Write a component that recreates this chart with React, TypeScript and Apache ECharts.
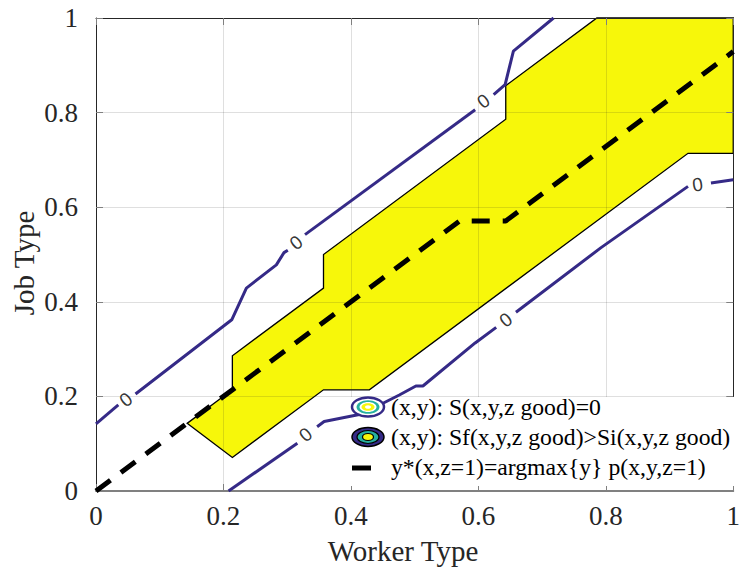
import React, { useEffect, useRef } from "react";
import * as echarts from "echarts";

// ---- data ----
const xTickLabels = ["0", "0.2", "0.4", "0.6", "0.8", "1"];
const yTickLabels = ["0", "0.2", "0.4", "0.6", "0.8", "1"];

// region where Sf > Si (yellow)
const regionX = [0.143, 0.214, 0.214, 0.357, 0.357, 0.643, 0.643, 0.786, 1.0, 1.0, 0.929, 0.429, 0.357, 0.214];
const regionY = [0.143, 0.214, 0.286, 0.429, 0.5, 0.786, 0.857, 1.0, 1.0, 0.714, 0.714, 0.214, 0.214, 0.071];

// S = 0 contour, upper branch (null = gap for a label)
const upperX = [0, 0.035, null, 0.062, 0.213, 0.236, 0.283, 0.295, 0.301, null, 0.328, 0.595, null, 0.624, 0.642, 0.655, 0.718];
const upperY = [0.142, 0.182, null, 0.205, 0.362, 0.429, 0.478, 0.504, 0.509, null, 0.542, 0.806, null, 0.838, 0.859, 0.93, 1.0];

// S = 0 contour, lower branch
const lowerX = [0.208, 0.316, null, 0.347, 0.358, 0.425, 0.448, 0.476, 0.502, 0.513, 0.595, 0.628, null, 0.659, 0.792, 0.929, null, 0.965, 1.0];
const lowerY = [0, 0.101, null, 0.136, 0.147, 0.165, 0.184, 0.203, 0.222, 0.222, 0.313, 0.346, null, 0.378, 0.514, 0.644, null, 0.651, 0.658];

// contour labels
const contourLabelX = [0.047, 0.314, 0.608, 0.329, 0.643, 0.944];
const contourLabelY = [0.193, 0.525, 0.824, 0.119, 0.362, 0.648];
const contourLabelText = ["0", "0", "0", "0", "0", "0"];
const contourLabelAngle = [38, 38, 36, 40, 37, 8];

// y*(x, z=1)
const yStarX = [0, 0.571, 0.643, 1];
const yStarY = [0, 0.571, 0.571, 0.929];

const legendTexts = [
  "(x,y): S(x,y,z good)=0",
  "(x,y): Sf(x,y,z good)>Si(x,y,z good)",
  "y*(x,z=1)=argmax{y} p(x,y,z=1)",
];

const NAVY = "#352a87";
const TEAL = "#26b0a0";
const YELLOW = "#f7f70a";
const SERIF = "Liberation Serif";

function splitSegments(xs: (number | null)[], ys: (number | null)[]) {
  const segs: number[][][] = [];
  let cur: number[][] = [];
  xs.forEach((x, i) => {
    const y = ys[i];
    if (x === null || y === null) {
      if (cur.length) segs.push(cur);
      cur = [];
    } else cur.push([x, y]);
  });
  if (cur.length) segs.push(cur);
  return segs;
}

export default function App() {
  const ref = useRef<HTMLDivElement>(null);
  useEffect(() => {
    if (!ref.current) return;
    const chart = echarts.init(ref.current, null, { renderer: "svg" });

    const contourSeries = [
      ...splitSegments(upperX, upperY),
      ...splitSegments(lowerX, lowerY),
    ].map((seg) => ({
      type: "line",
      data: seg,
      showSymbol: false,
      symbol: "none",
      z: 10,
      lineStyle: { color: NAVY, width: 3 },
      silent: true,
    }));

    const axisCommon = {
      type: "value",
      min: 0,
      max: 1,
      interval: 0.2,
    };

    const option: any = {
      animation: false,
      grid: { left: 96, right: 2, top: 18, bottom: 78 },
      xAxis: [
        {
          ...axisCommon,
          position: "bottom",
          z: 3,
          axisLine: { show: true, lineStyle: { color: "#808080", width: 2 } },
          axisTick: { show: true, inside: true, length: 7, lineStyle: { color: "#808080" } },
          axisLabel: {
            margin: 11,
            fontFamily: SERIF,
            fontSize: 27,
            color: "#262626",
            formatter: (v: number) => xTickLabels[Math.round(v / 0.2)],
          },
          splitLine: { show: true, lineStyle: { color: "rgba(38,38,38,0.15)", width: 1 } },
        },
        {
          ...axisCommon,
          position: "top",
          z: 3,
          axisLine: { show: true, onZero: false, lineStyle: { color: "#262626", width: 1 } },
          axisTick: { show: true, inside: true, length: 7, lineStyle: { color: "#808080" } },
          axisLabel: { show: false },
          splitLine: { show: false },
        },
      ],
      yAxis: [
        {
          ...axisCommon,
          position: "left",
          z: 3,
          axisLine: { show: true, onZero: false, lineStyle: { color: "#262626", width: 1 } },
          axisTick: { show: true, inside: true, length: 7, lineStyle: { color: "#808080" } },
          axisLabel: {
            margin: 18,
            fontFamily: SERIF,
            fontSize: 27,
            color: "#262626",
            formatter: (v: number) => yTickLabels[Math.round(v / 0.2)],
          },
          splitLine: { show: true, lineStyle: { color: "rgba(38,38,38,0.15)", width: 1 } },
        },
        {
          ...axisCommon,
          position: "right",
          z: 3,
          axisLine: { show: true, onZero: false, lineStyle: { color: "#262626", width: 1 } },
          axisTick: { show: true, inside: true, length: 7, lineStyle: { color: "#808080" } },
          axisLabel: { show: false },
          splitLine: { show: false },
        },
      ],
      series: [
        {
          type: "custom",
          z: 2,
          silent: true,
          clip: false,
          data: [[0, 0]],
          renderItem: (_p: any, api: any) => ({
            type: "polygon",
            shape: { points: regionX.map((x, i) => api.coord([x, regionY[i]])) },
            style: { fill: YELLOW, stroke: "#000", lineWidth: 1.3 },
          }),
        },
        ...contourSeries,
        {
          type: "scatter",
          z: 11,
          symbolSize: 0,
          silent: true,
          data: contourLabelX.map((x, i) => ({
            value: [x, contourLabelY[i]],
            label: { rotate: contourLabelAngle[i] },
          })),
          label: {
            show: true,
            position: "inside",
            formatter: (p: any) => contourLabelText[p.dataIndex],
            fontFamily: "Liberation Sans",
            fontSize: 19,
            color: "#000",
          },
        },
        {
          type: "line",
          z: 12,
          silent: true,
          showSymbol: false,
          symbol: "none",
          data: yStarX.map((x, i) => [x, yStarY[i]]),
          lineStyle: { color: "#000", width: 5, type: [18, 13] },
        },
      ],
      graphic: {
        elements: [
          // axis titles
          {
            type: "text",
            x: 403,
            y: 551,
            z: 20,
            style: {
              text: "Worker Type",
              fontFamily: SERIF,
              fontSize: 29,
              fill: "#262626",
              textAlign: "center",
              textVerticalAlign: "middle",
            },
          },
          {
            type: "text",
            x: 24,
            y: 263,
            z: 20,
            rotation: Math.PI / 2,
            style: {
              text: "Job Type",
              fontFamily: SERIF,
              fontSize: 29,
              fill: "#262626",
              textAlign: "center",
              textVerticalAlign: "middle",
            },
          },
          // legend background
          {
            type: "rect",
            z: 5,
            shape: { x: 348, y: 397, width: 392, height: 89 },
            style: { fill: "#fff" },
          },
          // legend icon 1 (contour S=0)
          { type: "ellipse", z: 20, shape: { cx: 368, cy: 407, rx: 16, ry: 9.5 }, style: { fill: "#fff", stroke: NAVY, lineWidth: 2.5 } },
          { type: "ellipse", z: 21, shape: { cx: 368, cy: 407, rx: 11.5, ry: 6.8 }, style: { fill: TEAL } },
          { type: "ellipse", z: 22, shape: { cx: 368, cy: 407, rx: 8.5, ry: 5 }, style: { fill: "#fff" } },
          { type: "ellipse", z: 23, shape: { cx: 368, cy: 407, rx: 6.5, ry: 3.8 }, style: { fill: YELLOW } },
          { type: "ellipse", z: 24, shape: { cx: 368, cy: 407, rx: 3, ry: 1.8 }, style: { fill: "#fff" } },
          // legend icon 2 (filled region)
          { type: "ellipse", z: 20, shape: { cx: 368, cy: 437, rx: 16, ry: 9.5 }, style: { fill: NAVY, stroke: "#000", lineWidth: 1.5 } },
          { type: "ellipse", z: 21, shape: { cx: 368, cy: 437, rx: 11, ry: 6.5 }, style: { fill: TEAL, stroke: "#000", lineWidth: 1.2 } },
          { type: "ellipse", z: 22, shape: { cx: 368, cy: 437, rx: 5.5, ry: 3.5 }, style: { fill: YELLOW, stroke: "#000", lineWidth: 1.2 } },
          // legend icon 3 (dashed line)
          { type: "line", z: 20, shape: { x1: 352, y1: 468, x2: 371, y2: 468 }, style: { stroke: "#000", lineWidth: 5 } },
          ...legendTexts.map((t, i) => ({
            type: "text",
            x: 391,
            y: 407 + i * 30,
            z: 20,
            style: {
              text: t,
              fontFamily: SERIF,
              fontSize: 23.7,
              fill: "#000",
              textAlign: "left",
              textVerticalAlign: "middle",
            },
          })),
        ],
      },
    };

    chart.setOption(option);
    return () => chart.dispose();
  }, []);

  return (
    <div
      ref={ref}
      style={{ position: "fixed", left: 0, top: 0, width: 743, height: 569, background: "#fff" }}
    />
  );
}
